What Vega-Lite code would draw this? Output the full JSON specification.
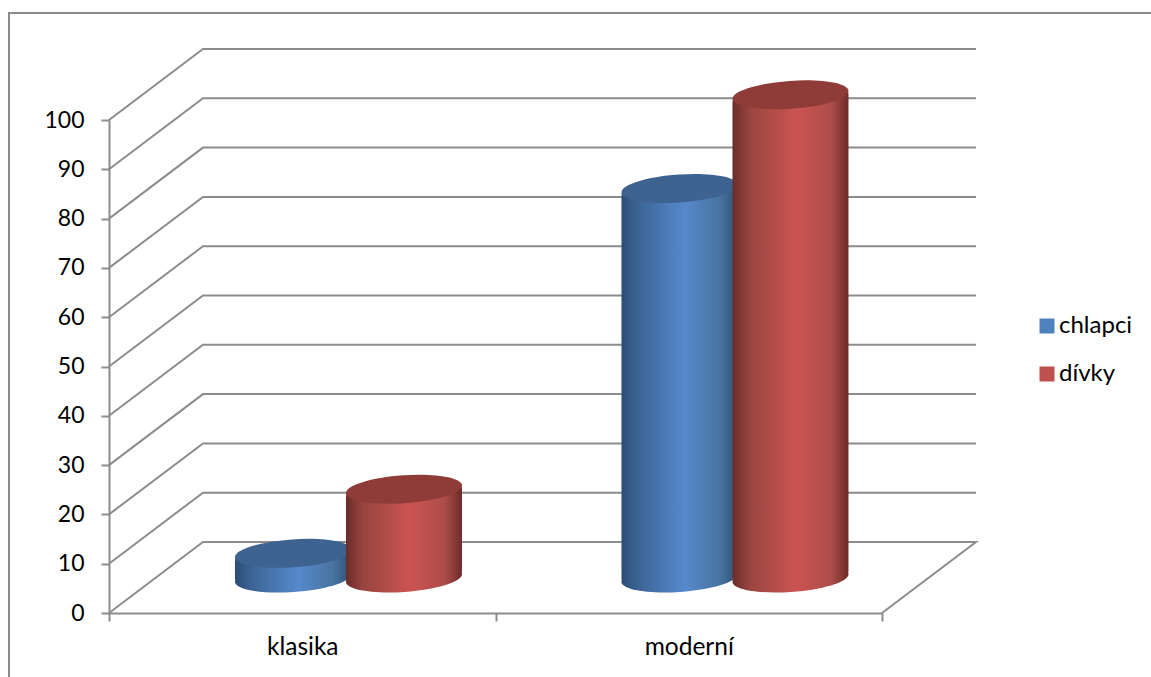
{
"$schema":"https://vega.github.io/schema/vega-lite/v6.json",
"width":867,"height":564,
"autosize":{"type":"none"},
"padding":{"left":109,"top":49,"right":175,"bottom":64},
"background":"white",
"config":{"view":{"stroke":null},"font":"Lato"},
"datasets":{
"sloupce":[
{"kategorie":"klasika","skupina":"chlapci","hodnota":5},
{"kategorie":"klasika","skupina":"dívky","hodnota":18},
{"kategorie":"moderní","skupina":"chlapci","hodnota":79},
{"kategorie":"moderní","skupina":"dívky","hodnota":98}],
"steny":[
{"cara":"ram","poradi":1,"x":-0.2587,"y":-14},{"cara":"ram","poradi":2,"x":-0.2587,"y":121.7},{"cara":"ram","poradi":3,"x":2.71,"y":121.7},
{"cara":"0","poradi":1,"x":0,"y":0},{"cara":"0","poradi":2,"x":0.2432,"y":14.4},{"cara":"0","poradi":3,"x":2.2432,"y":14.4},{"cara":"0","poradi":4,"x":2,"y":0},
{"cara":"10","poradi":1,"x":0,"y":10},{"cara":"10","poradi":2,"x":0.2432,"y":24.4},{"cara":"10","poradi":3,"x":2.2432,"y":24.4},
{"cara":"20","poradi":1,"x":0,"y":20},{"cara":"20","poradi":2,"x":0.2432,"y":34.4},{"cara":"20","poradi":3,"x":2.2432,"y":34.4},
{"cara":"30","poradi":1,"x":0,"y":30},{"cara":"30","poradi":2,"x":0.2432,"y":44.4},{"cara":"30","poradi":3,"x":2.2432,"y":44.4},
{"cara":"40","poradi":1,"x":0,"y":40},{"cara":"40","poradi":2,"x":0.2432,"y":54.4},{"cara":"40","poradi":3,"x":2.2432,"y":54.4},
{"cara":"50","poradi":1,"x":0,"y":50},{"cara":"50","poradi":2,"x":0.2432,"y":64.4},{"cara":"50","poradi":3,"x":2.2432,"y":64.4},
{"cara":"60","poradi":1,"x":0,"y":60},{"cara":"60","poradi":2,"x":0.2432,"y":74.4},{"cara":"60","poradi":3,"x":2.2432,"y":74.4},
{"cara":"70","poradi":1,"x":0,"y":70},{"cara":"70","poradi":2,"x":0.2432,"y":84.4},{"cara":"70","poradi":3,"x":2.2432,"y":84.4},
{"cara":"80","poradi":1,"x":0,"y":80},{"cara":"80","poradi":2,"x":0.2432,"y":94.4},{"cara":"80","poradi":3,"x":2.2432,"y":94.4},
{"cara":"90","poradi":1,"x":0,"y":90},{"cara":"90","poradi":2,"x":0.2432,"y":104.4},{"cara":"90","poradi":3,"x":2.2432,"y":104.4},
{"cara":"100","poradi":1,"x":0,"y":100},{"cara":"100","poradi":2,"x":0.2432,"y":114.4},{"cara":"100","poradi":3,"x":2.2432,"y":114.4}
]},
"resolve":{"scale":{"x":"independent"}},
"layer":[
{"data":{"name":"steny"},
 "mark":{"type":"line","color":"#8c8c8c","strokeWidth":2,"clip":false},
 "encoding":{
  "x":{"field":"x","type":"quantitative","axis":null,"scale":{"domain":[0,2.2432],"range":[0,867],"nice":false,"zero":false}},
  "y":{"field":"y","type":"quantitative","title":null,
   "scale":{"domain":[0,100],"range":[564,71],"nice":false},
   "axis":{"title":null,"values":[0,10,20,30,40,50,60,70,80,90,100],"grid":false,"domainColor":"#8c8c8c","domainWidth":2,"tickColor":"#8c8c8c","tickWidth":2,"tickSize":8,"labelFont":"Lato","labelFontSize":23,"labelColor":"#000000","labelPadding":17}},
  "detail":{"field":"cara"},
  "order":{"field":"poradi","type":"quantitative"}
 }},
{"data":{"name":"sloupce"},
 "encoding":{
  "x":{"field":"kategorie","type":"nominal","title":null,
   "scale":{"domain":["klasika","moderní"],"range":[0,773],"paddingInner":0,"paddingOuter":0},
   "axis":{"title":null,"labelAngle":0,"bandPosition":0.5,"tickBand":"extent","domainColor":"#8c8c8c","domainWidth":2,"tickColor":"#8c8c8c","tickWidth":2,"tickSize":8,"labelFont":"Lato","labelFontSize":24.5,"labelColor":"#000000","labelPadding":14}},
  "xOffset":{"field":"skupina","type":"nominal","scale":{"domain":["chlapci","dívky"],"paddingInner":0,"paddingOuter":0.741,"align":0.781}}
 },
 "layer":[
  {"mark":{"type":"bar","width":100,"yOffset":-35,"y2Offset":-35,"cornerRadius":8},
   "encoding":{
    "y":{"field":"hodnota","type":"quantitative","title":null,"stack":null},
    "y2":{"datum":0},
    "color":{"field":"skupina","type":"nominal","scale":{"domain":["chlapci","dívky"],"range":["#4f81bd","#c0504d"]},
     "legend":{"title":null,"orient":"none","legendX":926,"legendY":265,"symbolType":"square","symbolSize":225,"symbolStrokeWidth":0,"labelFont":"Lato","labelFontSize":24,"labelColor":"#000000","labelOffset":0,"rowPadding":24}}
   }},
  {"transform":[{"filter":"datum.skupina==='chlapci'"}],
   "encoding":{"y":{"field":"hodnota","type":"quantitative","title":null,"stack":null}},
   "layer":[
   {"mark":{"type":"bar","width":116,"yOffset":-39,"y2Offset":-31,"cornerRadiusTopLeft":12,"cornerRadiusTopRight":3,"cornerRadiusBottomLeft":3,"cornerRadiusBottomRight":12,
     "fill":{"gradient":"linear","x1":0,"y1":0,"x2":1,"y2":0,"stops":[{"offset":0,"color":"#2c4d74"},{"offset":0.15,"color":"#3c6596"},{"offset":0.55,"color":"#5689cc"},{"offset":0.85,"color":"#47739f"},{"offset":1,"color":"#2f5075"}]}},
    "encoding":{"y2":{"datum":0}}},
   {"mark":{"type":"point","filled":true,"opacity":1,"yOffset":-35,"size":13456,"shape":"M -1,0.069 A 1 0.24 -4 1 1 1,-0.069 A 1 0.24 -4 1 1 -1,0.069 Z",
     "fill":{"gradient":"linear","x1":0,"y1":0,"x2":1,"y2":0,"stops":[{"offset":0,"color":"#2c4d74"},{"offset":0.15,"color":"#3c6596"},{"offset":0.55,"color":"#5689cc"},{"offset":0.85,"color":"#47739f"},{"offset":1,"color":"#2f5075"}]}},
    "encoding":{"y":{"datum":0}}},
   {"mark":{"type":"point","filled":true,"opacity":1,"yOffset":-35,"size":13456,"color":"#3e6391","shape":"M -1,0.069 A 1 0.24 -4 1 1 1,-0.069 A 1 0.24 -4 1 1 -1,0.069 Z"}}
   ]},
  {"transform":[{"filter":"datum.skupina==='dívky'"}],
   "encoding":{"y":{"field":"hodnota","type":"quantitative","title":null,"stack":null}},
   "layer":[
   {"mark":{"type":"bar","width":116,"yOffset":-39,"y2Offset":-31,"cornerRadiusTopLeft":12,"cornerRadiusTopRight":3,"cornerRadiusBottomLeft":3,"cornerRadiusBottomRight":12,
     "fill":{"gradient":"linear","x1":0,"y1":0,"x2":1,"y2":0,"stops":[{"offset":0,"color":"#6b2c2a"},{"offset":0.15,"color":"#99453f"},{"offset":0.55,"color":"#cb5452"},{"offset":0.85,"color":"#ad4d4a"},{"offset":1,"color":"#6b2c2a"}]}},
    "encoding":{"y2":{"datum":0}}},
   {"mark":{"type":"point","filled":true,"opacity":1,"yOffset":-35,"size":13456,"shape":"M -1,0.069 A 1 0.24 -4 1 1 1,-0.069 A 1 0.24 -4 1 1 -1,0.069 Z",
     "fill":{"gradient":"linear","x1":0,"y1":0,"x2":1,"y2":0,"stops":[{"offset":0,"color":"#6b2c2a"},{"offset":0.15,"color":"#99453f"},{"offset":0.55,"color":"#cb5452"},{"offset":0.85,"color":"#ad4d4a"},{"offset":1,"color":"#6b2c2a"}]}},
    "encoding":{"y":{"datum":0}}},
   {"mark":{"type":"point","filled":true,"opacity":1,"yOffset":-35,"size":13456,"color":"#8f3c39","shape":"M -1,0.069 A 1 0.24 -4 1 1 1,-0.069 A 1 0.24 -4 1 1 -1,0.069 Z"}}
   ]}
 ]}
]
}
